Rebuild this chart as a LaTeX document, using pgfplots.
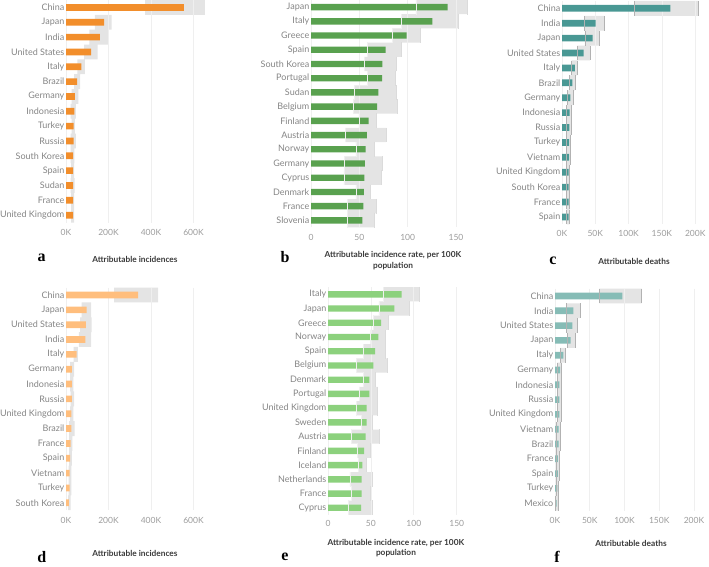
\documentclass[border=0pt]{standalone}
\usepackage{pgfplots}
\pgfplotsset{compat=1.18}
\usepackage{pgfplotstable}
\usepackage{fontspec}
\setmainfont{Lato}
\newfontfamily\letterfont{Liberation Serif}
\definecolor{orA}{HTML}{F28E2B}
\definecolor{orD}{HTML}{FFBE7D}
\definecolor{grB}{HTML}{59A14F}
\definecolor{grE}{HTML}{8CD17D}
\definecolor{tlC}{HTML}{499894}
\definecolor{tlF}{HTML}{86BCB6}
\definecolor{band}{HTML}{E4E4E4}
\definecolor{gridc}{HTML}{EFEFEF}
\definecolor{catc}{HTML}{858585}
\definecolor{tickc}{HTML}{9C9C9C}
\definecolor{titlec}{HTML}{3A3A3A}

% y = row index (0 = top), v = value, lo/hi = uncertainty band
\pgfplotstableread{
y v lo hi
0 555 372 654
1 179 136 215
2 160 110 199
3 118 85 149
4 72 53 89
5 52 38 66
6 42 27 58
7 39 22 47
8 36 27 42
9 36 22 47
10 33 22 39
11 33 24 38
12 33 22 40
13 33 24 38
14 33 24 38
}\dataA
\pgfplotstableread{
y v lo hi
0 141.4 108.6 161.7
1 125.5 93.7 152.4
2 98.9 84.4 112.7
3 77.2 58.6 93.7
4 73.8 55.2 88.6
5 73.6 58.6 86.9
6 69.6 44.8 88.6
7 68.3 43.8 89.7
8 59.7 49.6 67.9
9 57.9 35.9 77.6
10 56.5 46.5 65.2
11 55.8 34.5 73.4
12 55.2 34.1 72.4
13 54.6 46.5 61.7
14 54.3 37.9 67.9
15 53.1 37.9 65.5
}\dataB
\pgfplotstableread{
y v lo hi
0 162.6 108.6 204.7
1 50.6 33.5 63.5
2 46.1 34.5 55.5
3 32.6 23 42
4 19.5 14.5 23
5 15.5 10.5 19.5
6 12.5 8 17
7 11.5 7 14.5
8 11 7 14.5
9 10.5 6.5 12.5
10 10.5 7 12
11 10 7 11.5
12 10 7 11.5
13 10 7 11.5
14 10 7 11.5
}\dataC
\pgfplotstableread{
y v lo hi
0 339 227 433
1 97 74 118
2 94 66 121
3 91 61 118
4 50 36 56
5 28 19 38
6 28 19 35
7 28 22 38
8 25 19 35
9 25 15 40
10 22 15 30
11 20 15 28
12 17 12 25
13 17 12 25
14 14 10 22
}\dataD
\pgfplotstableread{
y v lo hi
0 85.9 64.5 106.1
1 77.3 59.4 94.4
2 61.8 52.8 70.3
3 58.6 49 66.4
4 54.8 41.2 67.2
5 52.8 33.4 69.5
6 48.2 41.2 55.6
7 48.2 36.5 57.5
8 45.1 33.4 57.5
9 45.1 38.5 52.1
10 43.9 26.8 59.4
11 42 34.6 49
12 40 35.3 44.3
13 39.2 25.6 52.1
14 39.2 26.8 49.7
15 38.5 23.7 51.6
}\dataE
\pgfplotstableread{
y v lo hi
0 96.9 63.8 124.7
1 26.4 16.8 36
2 25 16.8 32.6
3 22.5 17.8 29.3
4 12 8.2 14.4
5 7.2 3.4 9.6
6 6.2 3 8.6
7 6.2 3 8.6
8 6.2 3 8.6
9 5.3 2.5 7.5
10 5.3 2.5 7.5
11 4.3 2 6.5
12 4.3 2 6.5
13 3.4 1.5 5.5
14 2.4 1 4.5
}\dataF

\pgfplotsset{
  bg/.style={scale only axis, y dir=reverse, hide axis, xbar stacked, bar width=1},
  fg/.style={scale only axis, y dir=reverse, clip=false,
    axis line style={draw=none}, major tick length=0pt,
    xmajorgrids, grid style={draw=gridc, line width=0.7bp},
    yticklabel style={font=\fontsize{9bp}{11bp}\selectfont, text=catc, inner sep=1.5bp},
    xticklabel style={font=\fontsize{8.5bp}{10bp}\selectfont, text=tickc, anchor=center},
    xlabel style={font=\bfseries\fontsize{8.3bp}{10.5bp}\selectfont, text=titlec, anchor=center, align=center}},
  bandlo/.style={only marks, mark=|, mark size=7.4bp, mark options={draw=#1, line width=0.8bp}},
}

\begin{document}
\begin{tikzpicture}
\path[use as bounding box] (0bp,0bp) rectangle (709bp,567bp);

% ---------- a ----------
\begin{axis}[bg, at={(66bp,567bp)}, anchor=north west, width=144.5bp, height=222.6bp,
  xmin=0, xmax=680, ymin=-0.5, ymax=14.5]
\addplot[draw=none, fill=none] table[x=lo, y=y] {\dataA};
\addplot[draw=none, fill=band] table[x expr=\thisrow{hi}-\thisrow{lo}, y=y] {\dataA};
\end{axis}
\begin{axis}[fg, at={(66bp,567bp)}, anchor=north west, width=144.5bp, height=222.6bp,
  xmin=0, xmax=680, ymin=-0.5, ymax=14.5,
  xtick={0,200,400,600}, xticklabels={0K,200K,400K,600K},
  xticklabel style={yshift=-10bp},
  ytick={0,...,14},
  yticklabels={China,Japan,India,United States,Italy,Brazil,Germany,Indonesia,Turkey,Russia,South Korea,Spain,Sudan,France,United Kingdom},
  xlabel={Attributable incidences},
  xlabel style={at={(axis description cs:0.477,0)}, yshift=-37bp}]
\addplot[xbar, bar width=0.45, fill=orA, draw=none] table[x=v, y=y] {\dataA};
\end{axis}

% ---------- b ----------
\begin{axis}[bg, at={(311bp,567bp)}, anchor=north west, width=159.5bp, height=227.5bp,
  xmin=0, xmax=165, ymin=-0.5, ymax=15.5]
\addplot[draw=none, fill=none] table[x=lo, y=y] {\dataB};
\addplot[draw=none, fill=band] table[x expr=\thisrow{hi}-\thisrow{lo}, y=y] {\dataB};
\end{axis}
\begin{axis}[fg, at={(311bp,567bp)}, anchor=north west, width=159.5bp, height=227.5bp,
  xmin=0, xmax=165, ymin=-0.5, ymax=15.5,
  xtick={0,50,100,150}, xticklabels={0,50,100,150},
  xticklabel style={yshift=-9.5bp},
  ytick={0,...,15},
  yticklabels={Japan,Italy,Greece,Spain,South Korea,Portugal,Sudan,Belgium,Finland,Austria,Norway,Germany,Cyprus,Denmark,France,Slovenia},
  xlabel={Attributable incidence rate, per 100K\\population},
  xlabel style={at={(axis description cs:0.514,0)}, yshift=-33bp}]
\addplot[xbar, bar width=0.45, fill=grB, draw=none] table[x=v, y=y] {\dataB};
\addplot[bandlo=gray!12] table[x=lo, y=y] {\dataB};
\addplot[bandlo=gray!28] table[x=hi, y=y] {\dataB};
\end{axis}

% ---------- c ----------
\begin{axis}[bg, at={(562bp,566.1bp)}, anchor=north west, width=143.2bp, height=223.5bp,
  xmin=0, xmax=215, ymin=-0.5, ymax=14.5]
\addplot[draw=none, fill=none] table[x=lo, y=y] {\dataC};
\addplot[draw=none, fill=band] table[x expr=\thisrow{hi}-\thisrow{lo}, y=y] {\dataC};
\end{axis}
\begin{axis}[fg, at={(562bp,566.1bp)}, anchor=north west, width=143.2bp, height=223.5bp,
  xmin=0, xmax=215, ymin=-0.5, ymax=14.5,
  xtick={0,50,100,150,200}, xticklabels={0K,50K,100K,150K,200K},
  xticklabel style={yshift=-9bp},
  ytick={0,...,14},
  yticklabels={China,India,Japan,United States,Italy,Brazil,Germany,Indonesia,Russia,Turkey,Vietnam,United Kingdom,South Korea,France,Spain},
  xlabel={Attributable deaths},
  xlabel style={at={(axis description cs:0.503,0)}, yshift=-36.6bp}]
\addplot[xbar, bar width=0.45, fill=tlC, draw=none] table[x=v, y=y] {\dataC};
\addplot[bandlo=gray!60] table[x=lo, y=y] {\dataC};
\addplot[bandlo=gray!60] table[x=hi, y=y] {\dataC};
\end{axis}

% ---------- d ----------
\begin{axis}[bg, at={(66bp,279.4bp)}, anchor=north west, width=144.5bp, height=222.6bp,
  xmin=0, xmax=680, ymin=-0.5, ymax=14.5]
\addplot[draw=none, fill=none] table[x=lo, y=y] {\dataD};
\addplot[draw=none, fill=band] table[x expr=\thisrow{hi}-\thisrow{lo}, y=y] {\dataD};
\end{axis}
\begin{axis}[fg, at={(66bp,279.4bp)}, anchor=north west, width=144.5bp, height=222.6bp,
  xmin=0, xmax=680, ymin=-0.5, ymax=14.5,
  xtick={0,200,400,600}, xticklabels={0K,200K,400K,600K},
  xticklabel style={yshift=-10bp},
  ytick={0,...,14},
  yticklabels={China,Japan,United States,India,Italy,Germany,Indonesia,Russia,United Kingdom,Brazil,France,Spain,Vietnam,Turkey,South Korea},
  xlabel={Attributable incidences},
  xlabel style={at={(axis description cs:0.477,0)}, yshift=-43bp}]
\addplot[xbar, bar width=0.45, fill=orD, draw=none] table[x=v, y=y] {\dataD};
\end{axis}

% ---------- e ----------
\begin{axis}[bg, at={(328bp,279.8bp)}, anchor=north west, width=141.6bp, height=227.7bp,
  xmin=0, xmax=165, ymin=-0.5, ymax=15.5]
\addplot[draw=none, fill=none] table[x=lo, y=y] {\dataE};
\addplot[draw=none, fill=band] table[x expr=\thisrow{hi}-\thisrow{lo}, y=y] {\dataE};
\end{axis}
\begin{axis}[fg, at={(328bp,279.8bp)}, anchor=north west, width=141.6bp, height=227.7bp,
  xmin=0, xmax=165, ymin=-0.5, ymax=15.5,
  xtick={0,50,100,150}, xticklabels={0,50,100,150},
  xticklabel style={yshift=-8.5bp},
  ytick={0,...,15},
  yticklabels={Italy,Japan,Greece,Norway,Spain,Belgium,Denmark,Portugal,United Kingdom,Sweden,Austria,Finland,Iceland,Netherlands,France,Cyprus},
  xlabel={Attributable incidence rate, per 100K\\population},
  xlabel style={at={(axis description cs:0.48,0)}, yshift=-33bp}]
\addplot[xbar, bar width=0.45, fill=grE, draw=none] table[x=v, y=y] {\dataE};
\addplot[bandlo=gray!12] table[x=lo, y=y] {\dataE};
\addplot[bandlo=gray!28] table[x=hi, y=y] {\dataE};
\end{axis}

% ---------- f ----------
\begin{axis}[bg, at={(555bp,278.4bp)}, anchor=north west, width=149.4bp, height=222bp,
  xmin=0, xmax=215, ymin=-0.5, ymax=14.5]
\addplot[draw=none, fill=none] table[x=lo, y=y] {\dataF};
\addplot[draw=none, fill=band] table[x expr=\thisrow{hi}-\thisrow{lo}, y=y] {\dataF};
\end{axis}
\begin{axis}[fg, at={(555bp,278.4bp)}, anchor=north west, width=149.4bp, height=222bp,
  xmin=0, xmax=215, ymin=-0.5, ymax=14.5,
  xtick={0,50,100,150,200}, xticklabels={0K,50K,100K,150K,200K},
  xticklabel style={yshift=-9.5bp},
  ytick={0,...,14},
  yticklabels={China,India,United States,Japan,Italy,Germany,Indonesia,Russia,United Kingdom,Vietnam,Brazil,France,Spain,Turkey,Mexico},
  xlabel={Attributable deaths},
  xlabel style={at={(axis description cs:0.509,0)}, yshift=-32.6bp}]
\addplot[xbar, bar width=0.45, fill=tlF, draw=none] table[x=v, y=y] {\dataF};
\addplot[bandlo=gray!60] table[x=lo, y=y] {\dataF};
\addplot[bandlo=gray!60] table[x=hi, y=y] {\dataF};
\end{axis}

% panel letters
\begin{scope}[every node/.style={font=\letterfont\bfseries\fontsize{16bp}{16bp}\selectfont, anchor=center}]
\node at (41.7bp,309bp) {a};
\node at (285bp,310bp) {b};
\node at (553bp,306bp) {c};
\node at (41.7bp,10bp) {d};
\node at (285bp,10bp) {e};
\node at (557bp,10bp) {f};
\end{scope}
\end{tikzpicture}
\end{document}
